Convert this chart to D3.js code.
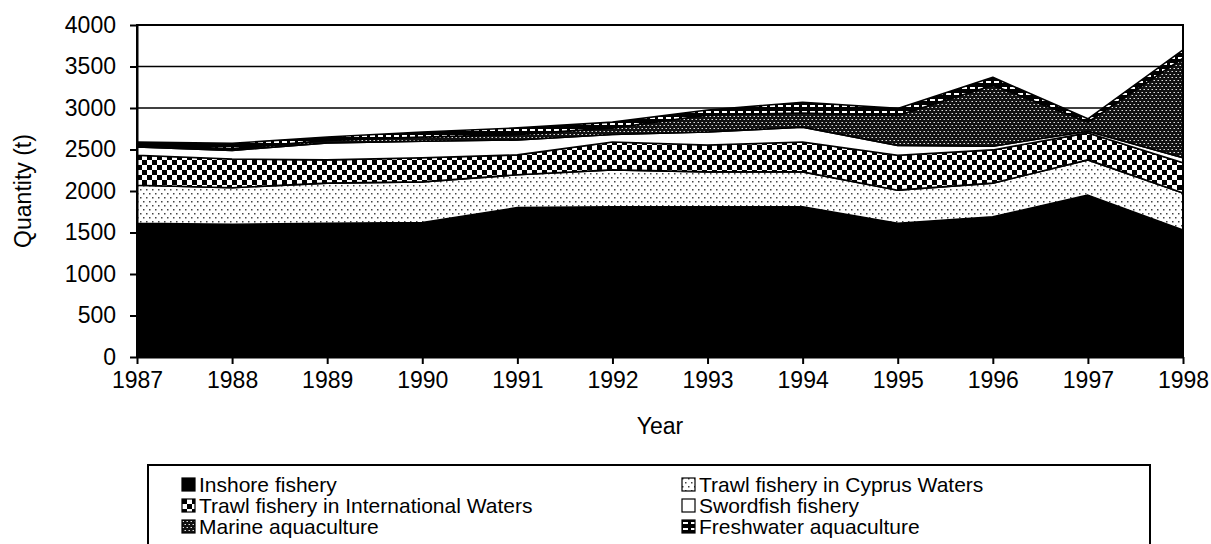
<!DOCTYPE html>
<html>
<head>
<meta charset="utf-8">
<script src="https://cdn.jsdelivr.net/npm/d3@7"></script>
<style>
  body { margin: 0; background: #fff; }
  svg { display: block; font-family: "Liberation Sans", Arial, sans-serif; }
  .axis path, .axis line { stroke: #000; stroke-width: 2px; }
  .axis text { font-size: 23px; fill: #000; }
</style>
</head>
<body>
<svg width="1211" height="544"></svg>
<script>
// data (tonnes)
var years = [1987, 1988, 1989, 1990, 1991, 1992, 1993, 1994, 1995, 1996, 1997, 1998];
var inshore = [1610, 1600, 1610, 1620, 1800, 1810, 1810, 1810, 1610, 1690, 1950, 1530];
var trawlCyprus = [460, 440, 485, 490, 395, 445, 420, 420, 400, 405, 425, 445];
var trawlIntl = [360, 345, 280, 290, 240, 335, 325, 360, 420, 400, 325, 365];
var swordfish = [100, 105, 205, 200, 180, 90, 155, 180, 120, 45, 20, 60];
var marineAqua = [20, 20, 30, 50, 65, 80, 205, 170, 360, 735, 110, 1200];
var freshAqua = [40, 65, 40, 60, 80, 70, 60, 130, 85, 95, 40, 100];
var yTicks = [0, 500, 1000, 1500, 2000, 2500, 3000, 3500, 4000];

var seriesNames = ['Inshore fishery', 'Trawl fishery in Cyprus Waters',
    'Trawl fishery in International Waters', 'Swordfish fishery',
    'Marine aquaculture', 'Freshwater aquaculture'];
var seriesValues = [inshore, trawlCyprus, trawlIntl, swordfish, marineAqua, freshAqua];
var fills = ['#000', 'url(#dots)', 'url(#checker)', '#fff', 'url(#marine)', 'url(#fresh)'];

var svg = d3.select('svg');

var padding = {t: 25, r: 28, b: 187, l: 137};
var plotW = 1211 - padding.l - padding.r;
var plotH = 544 - padding.t - padding.b;

// ---- patterns ----
var defs = svg.append('defs');

var p = defs.append('pattern').attr('id', 'dots')
    .attr('patternUnits', 'userSpaceOnUse').attr('width', 6).attr('height', 8);
p.append('rect').attr('width', 6).attr('height', 8).attr('fill', '#fff');
p.append('rect').attr('x', 0).attr('y', 0).attr('width', 1.5).attr('height', 1.5).attr('fill', '#444');
p.append('rect').attr('x', 3).attr('y', 4).attr('width', 1.5).attr('height', 1.5).attr('fill', '#444');

p = defs.append('pattern').attr('id', 'checker')
    .attr('patternUnits', 'userSpaceOnUse').attr('width', 10).attr('height', 10);
p.append('rect').attr('width', 10).attr('height', 10).attr('fill', '#fff');
p.append('rect').attr('x', 0).attr('y', 0).attr('width', 5).attr('height', 5).attr('fill', '#000');
p.append('rect').attr('x', 5).attr('y', 5).attr('width', 5).attr('height', 5).attr('fill', '#000');

p = defs.append('pattern').attr('id', 'marine')
    .attr('patternUnits', 'userSpaceOnUse').attr('width', 4).attr('height', 6);
p.append('rect').attr('width', 4).attr('height', 6).attr('fill', '#111');
p.append('rect').attr('x', 0.5).attr('y', 1).attr('width', 1.5).attr('height', 1).attr('fill', '#ddd');
p.append('rect').attr('x', 2.5).attr('y', 4).attr('width', 1.5).attr('height', 1).attr('fill', '#ddd');

// freshwater: black with white dashes
p = defs.append('pattern').attr('id', 'fresh')
    .attr('patternUnits', 'userSpaceOnUse').attr('width', 8).attr('height', 6);
p.append('rect').attr('width', 8).attr('height', 6).attr('fill', '#000');
p.append('rect').attr('x', 1).attr('y', 2).attr('width', 5).attr('height', 2).attr('fill', '#fff');

// ---- scales ----
var xScale = d3.scaleLinear().domain([1987, 1998]).range([0, plotW]);
var yScale = d3.scaleLinear().domain([0, 4000]).range([plotH, 0]);

var chartG = svg.append('g')
    .attr('transform', 'translate(' + [padding.l, padding.t] + ')');

// gridlines
chartG.selectAll('.grid')
    .data(yTicks)
    .enter().append('line')
    .attr('class', 'grid')
    .attr('x1', 0).attr('x2', plotW)
    .attr('y1', function(d) { return yScale(d); })
    .attr('y2', function(d) { return yScale(d); })
    .attr('stroke', '#000').attr('stroke-width', 1.5);

// stacked areas
var table = years.map(function(yr, i) {
    var row = {year: yr};
    seriesNames.forEach(function(name, s) { row[name] = seriesValues[s][i]; });
    return row;
});
var stack = d3.stack().keys(seriesNames);
var layers = stack(table);

var area = d3.area()
    .x(function(d) { return xScale(d.data.year); })
    .y0(function(d) { return yScale(d[0]); })
    .y1(function(d) { return yScale(d[1]); });

chartG.selectAll('.layer')
    .data(layers)
    .enter().append('path')
    .attr('class', 'layer')
    .attr('d', area)
    .attr('fill', function(d, i) { return fills[i]; })
    .attr('stroke', '#000')
    .attr('stroke-width', 1.6)
    .attr('stroke-linejoin', 'round');

// frame
chartG.append('rect')
    .attr('width', plotW).attr('height', plotH)
    .attr('fill', 'none').attr('stroke', '#000').attr('stroke-width', 2);

// axes
var xAxis = d3.axisBottom(xScale).tickValues(years).tickFormat(d3.format('d'))
    .tickSizeInner(7).tickSizeOuter(0).tickPadding(8);
var yAxis = d3.axisLeft(yScale).tickValues(yTicks).tickFormat(d3.format('d'))
    .tickSizeInner(7).tickSizeOuter(0).tickPadding(14);

chartG.append('g').attr('class', 'x axis')
    .attr('transform', 'translate(0,' + plotH + ')')
    .call(xAxis);
chartG.append('g').attr('class', 'y axis').call(yAxis);
chartG.selectAll('.axis').attr('font-family', null);

// axis titles
svg.append('text')
    .attr('x', padding.l + plotW / 2).attr('y', 434)
    .attr('text-anchor', 'middle')
    .style('font-size', '23px')
    .text('Year');
svg.append('text')
    .attr('transform', 'translate(' + [31, padding.t + plotH / 2] + ')rotate(-90)')
    .attr('text-anchor', 'middle')
    .style('font-size', '23px')
    .text('Quantity (t)');

// legend
var legendG = svg.append('g');
legendG.append('rect')
    .attr('x', 148).attr('y', 465).attr('width', 1002).attr('height', 120)
    .attr('fill', '#fff').attr('stroke', '#000').attr('stroke-width', 2);

var legendItems = legendG.selectAll('.legend-item')
    .data(seriesNames)
    .enter().append('g')
    .attr('class', 'legend-item')
    .attr('transform', function(d, i) {
        var col = i % 2, row = Math.floor(i / 2);
        return 'translate(' + [col === 0 ? 182 : 682, 478 + row * 21] + ')';
    });
legendItems.append('rect')
    .attr('width', 13).attr('height', 13)
    .attr('fill', function(d, i) { return fills[i]; })
    .attr('stroke', '#000').attr('stroke-width', 1.2);
legendItems.append('text')
    .attr('x', 17).attr('y', 14)
    .style('font-size', '21px')
    .text(function(d) { return d; });
</script>
</body>
</html>
